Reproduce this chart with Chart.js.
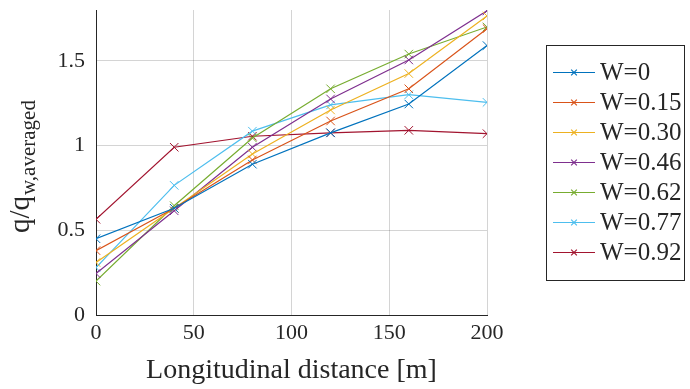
<!DOCTYPE html>
<html>
<head>
<meta charset="utf-8">
<script src="https://cdn.jsdelivr.net/npm/chart.js@4.4.1/dist/chart.umd.min.js"></script>
<style>
  html, body { margin: 0; padding: 0; background: #fff; }
  #wrap { width: 690px; height: 389px; position: relative; }
</style>
</head>
<body>
<div id="wrap"><canvas id="chart"></canvas></div>
<script>
// distances along the road [m]
const distances = [0, 40, 80, 120, 160, 200];

const seriesNames = ['W=0', 'W=0.15', 'W=0.30', 'W=0.46', 'W=0.62', 'W=0.77', 'W=0.92'];
const seriesColors = ['#0072BD', '#D95319', '#EDB120', '#7E2F8E', '#77AC30', '#4DBEEE', '#A2142F'];

// q / q_w,averaged
const w000 = [0.45, 0.63, 0.89, 1.075, 1.245, 1.59];
const w015 = [0.38, 0.63, 0.915, 1.145, 1.335, 1.69];
const w030 = [0.31, 0.63, 0.95, 1.21, 1.425, 1.765];
const w046 = [0.245, 0.615, 0.99, 1.275, 1.505, 1.795];
const w062 = [0.20, 0.645, 1.045, 1.335, 1.54, 1.70];
const w077 = [0.28, 0.765, 1.085, 1.24, 1.30, 1.255];
const w092 = [0.565, 0.99, 1.055, 1.075, 1.09, 1.07];

const seriesValues = [w000, w015, w030, w046, w062, w077, w092];

const xTicks = [0, 50, 100, 150, 200];
const yTicks = [0, 0.5, 1, 1.5];

const serif = "'Liberation Serif', 'Times New Roman', serif";
const textColor = '#262626';

// y title with a subscript + boxed legend
const extrasPlugin = {
  id: 'extras',
  afterDraw(chart) {
    const ctx = chart.ctx;

    // rotated y-axis title: q/q_{w,averaged}
    ctx.save();
    ctx.translate(29, 233);
    ctx.rotate(-Math.PI / 2);
    ctx.fillStyle = textColor;
    ctx.textBaseline = 'alphabetic';
    ctx.textAlign = 'left';
    ctx.font = '29px ' + serif;
    ctx.fillText('q/q', 0, 0);
    const w = ctx.measureText('q/q').width;
    ctx.font = '21px ' + serif;
    ctx.fillText('w,averaged', w + 1, 6);
    ctx.restore();

    // legend
    const box = { left: 546, top: 45, right: 685, bottom: 281 };
    ctx.save();
    ctx.fillStyle = '#fff';
    ctx.fillRect(box.left, box.top, box.right - box.left, box.bottom - box.top);
    ctx.strokeStyle = '#262626';
    ctx.lineWidth = 1;
    ctx.strokeRect(box.left + 0.5, box.top + 0.5, box.right - box.left - 1, box.bottom - box.top - 1);
    chart.data.datasets.forEach((ds, i) => {
      const y = 72.5 + i * 30;
      ctx.strokeStyle = ds.borderColor;
      ctx.lineWidth = 1.2;
      ctx.beginPath();
      ctx.moveTo(553, y);
      ctx.lineTo(595, y);
      ctx.stroke();
      Chart.helpers.drawPoint(ctx, { pointStyle: 'crossRot', radius: 4, borderWidth: 1, rotation: 0 }, 574, y);
      ctx.fillStyle = textColor;
      ctx.font = '25px ' + serif;
      ctx.textBaseline = 'middle';
      ctx.textAlign = 'left';
      ctx.fillText(ds.label, 600, y + 1);
    });
    ctx.restore();
  }
};

const datasets = seriesNames.map((name, i) => ({
  label: name,
  data: distances.map((d, j) => ({ x: d, y: seriesValues[i][j] })),
  borderColor: seriesColors[i],
  backgroundColor: seriesColors[i],
  borderWidth: 1.2,
  pointStyle: 'crossRot',
  pointRadius: 6,
  pointBorderWidth: 1,
  tension: 0,
  fill: false,
}));

new Chart(document.getElementById('chart'), {
  type: 'line',
  data: { datasets },
  options: {
    responsive: true,
    maintainAspectRatio: false,
    animation: false,
    devicePixelRatio: 1,
    layout: { padding: { top: 10, right: 203, left: 0, bottom: 0 } },
    plugins: {
      legend: { display: false },
      tooltip: { enabled: false },
    },
    scales: {
      x: {
        type: 'linear',
        min: 0,
        max: 200,
        afterBuildTicks: s => { s.ticks = xTicks.map(v => ({ value: v })); },
        afterFit: s => { s.height = 74; s.paddingLeft = 0; s.paddingRight = 0; },
        ticks: { font: { family: serif, size: 22 }, color: textColor, padding: 5, maxRotation: 0 },
        grid: { color: 'rgba(38,38,38,0.2)', drawTicks: false },
        border: { color: '#262626', width: 1 },
        title: {
          display: true,
          text: 'Longitudinal distance [m]',
          font: { family: serif, size: 28 },
          color: textColor,
          padding: { top: 4, bottom: 2 },
        },
      },
      y: {
        type: 'linear',
        min: 0,
        max: 1.8,
        afterBuildTicks: s => { s.ticks = yTicks.map(v => ({ value: v })); },
        afterFit: s => { s.width = 96; s.paddingTop = 0; s.paddingBottom = 0; },
        ticks: {
          font: { family: serif, size: 22 },
          color: textColor,
          padding: 11,
          callback: v => String(v),
        },
        grid: { color: 'rgba(38,38,38,0.2)', drawTicks: false },
        border: { color: '#262626', width: 1 },
      },
    },
  },
  plugins: [extrasPlugin],
});
</script>
</body>
</html>
